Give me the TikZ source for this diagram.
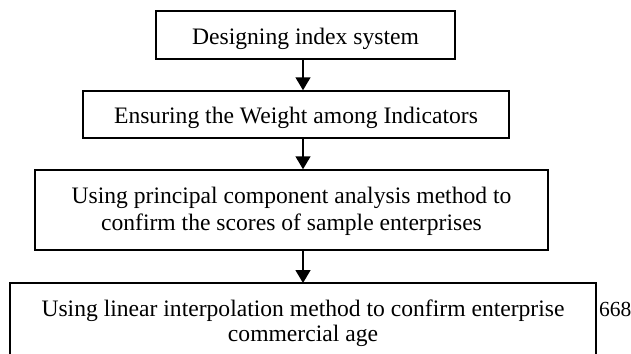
\documentclass[tikz,border=0pt]{standalone}
\usepackage{fontspec}
\setmainfont{Liberation Serif}
\usetikzlibrary{arrows.meta}
\begin{document}
\begin{tikzpicture}[x=1pt,y=-1pt,
  box/.style={draw, line width=1.5pt, inner sep=0pt},
  txt/.style={inner sep=0pt, anchor=base, font=\fontsize{23.6}{26}\selectfont},
  arr/.style={-{Triangle[length=13pt,width=15pt]}, line width=1.5pt}]
\useasboundingbox (0,0) rectangle (631,353);
% boxes
\node[box, minimum width=299pt, minimum height=48pt] (b1) at (305.5,35) {};
\node[box, minimum width=426pt, minimum height=47pt] (b2) at (296,114.5) {};
\node[box, minimum width=513pt, minimum height=80pt] (b3) at (291.5,210) {};
\coordinate (b4top) at (303,283);
\draw[line width=1.5pt] (10,360) -- (10,283) -- (596,283) -- (596,360);
% texts
\node[txt] (t1) at (305.5,45) {Designing index system};
\node[txt] (t2) at (296,123) {Ensuring the Weight among Indicators};
\node[txt] (t3a) at (291.5,203) {Using principal component analysis method to};
\node[txt] (t3b) at (291.5,230) {confirm the scores of sample enterprises};
\node[txt] (t4a) at (303,316) {Using linear interpolation method to confirm enterprise};
\node[txt] (t4b) at (303,341) {commercial age};
\node[txt, anchor=base west, font=\fontsize{21.5}{24}\selectfont] (pg) at (599,316) {668};
% arrows
\draw[arr] (b1.south -| 303,0) -- (b2.north -| 303,0);
\draw[arr] (b2.south -| 303,0) -- (b3.north -| 303,0);
\draw[arr] (b3.south -| 303,0) -- (b4top);
\end{tikzpicture}
\end{document}
